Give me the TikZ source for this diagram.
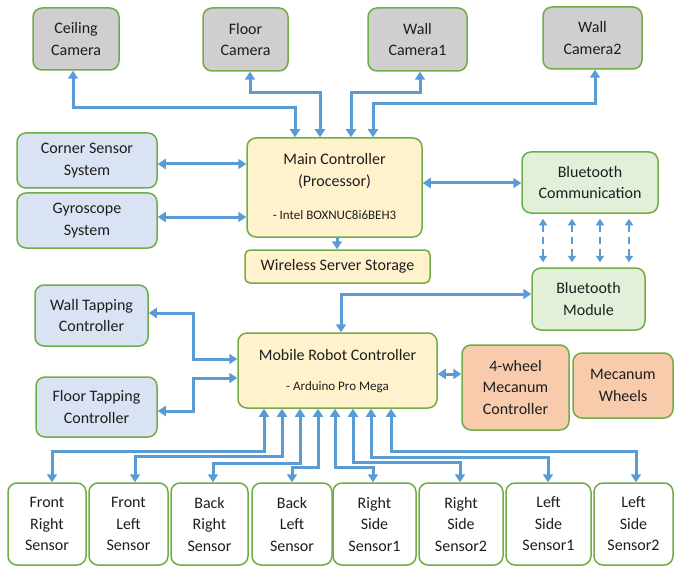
\documentclass[tikz,border=0pt]{standalone}
\usepackage{fontspec}
\setmainfont{Carlito}
\usetikzlibrary{arrows.meta}
\definecolor{edgegreen}{HTML}{70AD47}
\definecolor{arrblue}{HTML}{5B9BD5}
\definecolor{camgray}{HTML}{D0CECE}
\definecolor{sysblue}{HTML}{DAE3F3}
\definecolor{ctrlyellow}{HTML}{FFF2CC}
\definecolor{btgreen}{HTML}{E2F0D9}
\definecolor{mecorange}{HTML}{F8CBAD}
\definecolor{txtcol}{HTML}{1E1E1E}
\begin{document}
\begin{tikzpicture}[x=1pt,y=-1pt,
  box/.style={draw=edgegreen, line width=1.5pt, rounded corners=9pt, align=center,
    inner sep=0pt, font=\fontsize{16}{21.5}\selectfont, text=txtcol},
  txt/.style={align=center, inner sep=0pt, font=\fontsize{16}{21.5}\selectfont, text=txtcol},
  subtxt/.style={align=center, inner sep=0pt, font=\fontsize{13}{15}\selectfont, text=txtcol},
  tipA/.tip={Triangle[width=10pt,length=8pt]},
  tipB/.tip={Triangle[width=8pt,length=6.5pt]},
  arr/.style={draw=arrblue, line width=3pt, {tipA}-{tipA}},
  arrone/.style={draw=arrblue, line width=3pt, -{tipA}},
  darr/.style={draw=arrblue, line width=2pt, dash pattern=on 7pt off 5pt, {tipB}-{tipB},
    shorten <=5pt, shorten >=5pt},
  sensor/.style={box, fill=white, minimum height=82pt}]

\useasboundingbox (0,0) rectangle (675,567);

% cameras
\node[box, fill=camgray, minimum width=86pt, minimum height=62pt] (ceil) at (76,39) {Ceiling\\Camera};
\node[box, fill=camgray, minimum width=85pt, minimum height=63pt] (floorcam) at (245.5,39.5) {Floor\\Camera};
\node[box, fill=camgray, minimum width=99pt, minimum height=63pt] (wcone) at (417.5,39.5) {Wall\\Camera1};
\node[box, fill=camgray, minimum width=99pt, minimum height=62pt] (wctwo) at (592.5,38) {Wall\\Camera2};

% main controller and its neighbours
\node[box, fill=sysblue, minimum width=140pt, minimum height=55pt] (corner) at (87,160.5) {Corner Sensor\\System};
\node[box, fill=sysblue, minimum width=140pt, minimum height=55pt] (gyro) at (87,220.5) {Gyroscope\\System};
\node[box, fill=ctrlyellow, minimum width=175pt, minimum height=99pt] (main) at (334.5,187.5) {};
\node[txt] (maintitle) at (334.5,171) {Main Controller\\(Processor)};
\node[subtxt] (mainsub) at (334.5,215) {- Intel BOXNUC8i6BEH3};
\node[box, fill=ctrlyellow, minimum width=185pt, minimum height=33pt, rounded corners=5pt] (storage) at (337.5,266.5) {Wireless Server Storage};
\node[box, fill=btgreen, minimum width=136pt, minimum height=61pt] (btcomm) at (590,182.5) {Bluetooth\\Communication};
\node[box, fill=btgreen, minimum width=113pt, minimum height=62pt] (btmod) at (588.5,299) {Bluetooth\\Module};

% mobile robot controller and its neighbours
\node[box, fill=sysblue, minimum width=113pt, minimum height=61pt] (walltap) at (91.5,315.5) {Wall Tapping\\Controller};
\node[box, fill=sysblue, minimum width=121pt, minimum height=60pt] (floortap) at (96.5,407) {Floor Tapping\\Controller};
\node[box, fill=ctrlyellow, minimum width=199pt, minimum height=75pt] (mobile) at (337.5,370.5) {};
\node[txt] (mobiletitle) at (337.5,355) {Mobile Robot Controller};
\node[subtxt] (mobilesub) at (337.5,387) {- Arduino Pro Mega};
\node[box, fill=mecorange, minimum width=107pt, minimum height=85pt] (mecctrl) at (515.5,387.5) {4-wheel\\Mecanum\\Controller};
\node[box, fill=mecorange, minimum width=100pt, minimum height=65pt] (mecwheel) at (623,385.5) {Mecanum\\Wheels};

% sensors
\node[sensor, minimum width=78pt] (fr) at (47,524) {Front\\Right\\Sensor};
\node[sensor, minimum width=79pt] (fl) at (128.5,524) {Front\\Left\\Sensor};
\node[sensor, minimum width=77pt] (br) at (209.5,524) {Back\\Right\\Sensor};
\node[sensor, minimum width=80pt] (bl) at (292,524) {Back\\Left\\Sensor};
\node[sensor, minimum width=83pt] (rsone) at (374.5,524) {Right\\Side\\Sensor1};
\node[sensor, minimum width=84pt] (rstwo) at (461,524) {Right\\Side\\Sensor2};
\node[sensor, minimum width=85pt] (lsone) at (548.5,524) {Left\\Side\\Sensor1};
\node[sensor, minimum width=79pt] (lstwo) at (633.5,524) {Left\\Side\\Sensor2};

% camera links
\draw[arr] ([xshift=-3pt]ceil.south) -- ++(0,37) -| ([xshift=-39.5pt]main.north);
\draw[arr] ([xshift=4.5pt]floorcam.south) -- ++(0,21) -| ([xshift=-14.5pt]main.north);
\draw[arr] ([xshift=2.5pt]wcone.south) -- ++(0,21) -| ([xshift=16.5pt]main.north);
\draw[arr] ([xshift=2.5pt]wctwo.south) -- ++(0,34) -| ([xshift=38.5pt]main.north);

% main controller links
\draw[arr] (corner.east |- 0,164) -- (main.west |- 0,164);
\draw[arr] (gyro.east |- 0,217) -- (main.west |- 0,217);
\draw[arr] (main.east |- 0,183) -- (btcomm.west |- 0,183);
\draw[arrone] (main.south -| 337,0) -- (storage.north -| 337,0);

% wireless link between the bluetooth units
\foreach \xx in {543,572,600,629}
  \draw[darr] (btcomm.south -| \xx,0) -- (btmod.north -| \xx,0);

% mobile robot controller links
\draw[arr] (btmod.west |- 0,294) -| (mobile.north -| 341,0);
\draw[arr] (walltap.east |- 0,313) -- (193,313) |- (mobile.west |- 0,359);
\draw[arr] (floortap.east |- 0,411) -- (193,411) |- (mobile.west |- 0,378);
\draw[arr] (mobile.east |- 0,374) -- (mecctrl.west |- 0,374);

% sensor links
\draw[arr] (mobile.south -| 264,0) |- (52,451) -- (fr.north -| 52,0);
\draw[arr] (mobile.south -| 282,0) |- (135,456) -- (fl.north -| 135,0);
\draw[arr] (mobile.south -| 300,0) |- (213,463) -- (br.north -| 213,0);
\draw[arr] (mobile.south -| 318,0) |- (292,467) -- (bl.north -| 292,0);
\draw[arr] (mobile.south -| 335,0) |- (373,467) -- (rsone.north -| 373,0);
\draw[arr] (mobile.south -| 353,0) |- (460,462) -- (rstwo.north -| 460,0);
\draw[arr] (mobile.south -| 371,0) |- (548,457) -- (lsone.north -| 548,0);
\draw[arr] (mobile.south -| 391,0) |- (636,451) -- (lstwo.north -| 636,0);
\end{tikzpicture}
\end{document}
